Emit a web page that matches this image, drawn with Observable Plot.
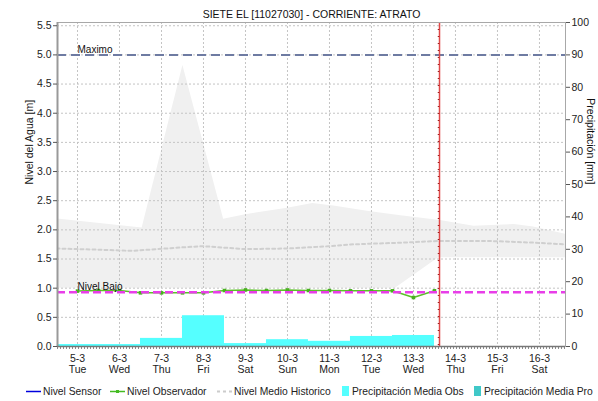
<!DOCTYPE html>
<html>
<head>
<meta charset="utf-8">
<script src="https://cdn.jsdelivr.net/npm/d3@7"></script>
<script src="https://cdn.jsdelivr.net/npm/@observablehq/plot@0.6"></script>
<style>
  html, body { margin: 0; padding: 0; background: #fff; }
  #wrap { position: relative; width: 598px; height: 401px; font-family: "Liberation Sans", Arial, sans-serif; overflow: hidden; }
  #legend { position: absolute; left: 0; top: 384px; width: 598px; height: 14px; font-size: 10.3px; color: #222; white-space: nowrap; }
  #legend .it { position: absolute; top: 0; display: flex; align-items: center; height: 14px; }
  #legend svg { margin-right: 2px; }
</style>
</head>
<body>
<div id="wrap"><div id="chart"></div><div id="legend"></div></div>
<script>
// ---------- data ----------
const title = "SIETE EL [11027030] - CORRIENTE: ATRATO";
const dayTicks = [5, 6, 7, 8, 9, 10, 11, 12, 13, 14, 15, 16];
const dayLabels = ["5-3", "6-3", "7-3", "8-3", "9-3", "10-3", "11-3", "12-3", "13-3", "14-3", "15-3", "16-3"];
const weekdayLabels = ["Tue", "Wed", "Thu", "Fri", "Sat", "Sun", "Mon", "Tue", "Wed", "Thu", "Fri", "Sat"];
const levelTicks = [0, 0.5, 1, 1.5, 2, 2.5, 3, 3.5, 4, 4.5, 5, 5.5];
const precipTicks = [0, 10, 20, 30, 40, 50, 60, 70, 80, 90, 100];

// Precipitación Media Obs (mm per day)
const precipDays = [5, 6, 7, 8, 9, 10, 11, 12, 13];
const precipObs  = [0.6, 0.6, 2.5, 9.5, 0.9, 2.1, 1.6, 3.1, 3.4];

// Nivel Observador (m), every 12 h
const obsTime  = [5, 5.5, 6, 6.5, 7, 7.5, 8, 8.5, 9, 9.5, 10, 10.5, 11, 11.5, 12, 12.5, 13, 13.5];
const obsLevel = [0.95, 0.96, 0.96, 0.92, 0.92, 0.92, 0.92, 0.96, 0.97, 0.96, 0.97, 0.96, 0.96, 0.955, 0.955, 0.955, 0.84, 0.955];

// Historic band (m)
const bandHiTime = [4.5, 6.54, 7.51, 8.48, 9, 10, 10.6, 11.1, 11.9, 12.7, 13.64, 14.44, 15.0, 15.4, 15.86, 16.65];
const bandHi     = [2.19, 2.03, 4.82, 2.18, 2.26, 2.37, 2.45, 2.41, 2.32, 2.24, 2.16, 2.06, 2.08, 2.09, 2.05, 1.92];
const bandLoTime = [4.5, 12.57, 13.6, 16.65];
const bandLo     = [1.0, 1.0, 1.52, 1.52];

// Nivel Medio Historico (m)
const meanTime  = [4.5, 5.5, 6.3, 7.5, 8.0, 9.0, 10.0, 11.0, 11.5, 12.7, 13.6, 14.8, 15.9, 16.65];
const meanLevel = [1.68, 1.66, 1.64, 1.70, 1.72, 1.67, 1.68, 1.72, 1.75, 1.78, 1.81, 1.81, 1.78, 1.75];

const nivelMaximo = 5.0;
const nivelBajo = 0.93;
const nowTime = 13.62;

// ---------- build ----------
const MM_PER_M = 18; // right axis 0..100 mm  <->  left axis 0..5.556 m
const precip = precipDays.map((d, i) => ({d, mm: precipObs[i]}));
const obs = obsTime.map((t, i) => ({t, v: obsLevel[i]}));
const hi = bandHiTime.map((t, i) => ({t, v: bandHi[i]}));
const lo = bandLoTime.map((t, i) => ({t, v: bandLo[i]}));
const mean = meanTime.map((t, i) => ({t, v: meanLevel[i]}));

const font = "Liberation Sans, Arial, sans-serif";
const chart = Plot.plot({
  width: 598,
  height: 382,
  marginTop: 22,
  marginLeft: 57,
  marginRight: 33,
  marginBottom: 36,
  style: {fontFamily: font, fontSize: "10.5px", color: "#222", background: "white"},
  x: {domain: [4.524, 16.62]},
  y: {domain: [0, 100 / MM_PER_M]},
  marks: [
    Plot.areaY(hi, {x: "t", y1: 0, y2: "v", fill: "#f0f0f0", clip: true}),
    Plot.areaY(lo, {x: "t", y1: 0, y2: "v", fill: "#ffffff", clip: true}),
    Plot.ruleX(dayTicks, {stroke: "#c4c4c4", strokeDasharray: "2,2"}),
    Plot.ruleY(levelTicks.filter(v => v > 0), {stroke: "#c4c4c4", strokeDasharray: "2,2"}),
    Plot.rectY(precip, {x1: d => d.d - 0.5, x2: d => d.d + 0.5, y: d => d.mm / MM_PER_M, fill: "#55ffff", clip: true}),
    Plot.line(mean, {x: "t", y: "v", stroke: "#cfcfcf", strokeWidth: 2, strokeDasharray: "3,3", clip: true}),
    Plot.ruleY([nivelMaximo], {stroke: "#6e7ba2", strokeWidth: 2, strokeDasharray: "9,5"}),
    Plot.text(["Maximo"], {x: 5, y: nivelMaximo, textAnchor: "start", lineAnchor: "bottom", dy: -2, fontSize: 10, fill: "#111"}),
    Plot.line(obs, {x: "t", y: "v", stroke: "#5cbf2a", strokeWidth: 1.5}),
    Plot.dot(obs, {x: "t", y: "v", symbol: "square", r: 2, fill: "#48b020", stroke: "none"}),
    Plot.ruleY([nivelBajo], {stroke: "#e83ee8", strokeWidth: 2.5, strokeDasharray: "8,4"}),
    Plot.text(["Nivel Bajo"], {x: 5, y: nivelBajo, textAnchor: "start", lineAnchor: "bottom", dy: -2, fontSize: 10, fill: "#111"}),
    Plot.ruleX([nowTime], {stroke: "#e04848", strokeWidth: 1.5}),
    Plot.ruleX([nowTime], {stroke: "#a02020", strokeWidth: 1.5, strokeDasharray: "1,6", dx: -1}),
    Plot.frame({stroke: "#a8a8a8"}),
    Plot.ruleX([4.524], {stroke: "#999", strokeWidth: 2}),
    Plot.ruleY([0], {stroke: "#777", strokeWidth: 1.5}),
    Plot.ruleY([0], {stroke: "#666", strokeWidth: 1.5, strokeDasharray: "1,2", dy: 1.5}),
    Plot.axisY({ticks: levelTicks, tickFormat: d => d.toFixed(1), tickSize: 4, tickPadding: 2, label: null, stroke: "#555"}),
    Plot.axisY({anchor: "right", ticks: precipTicks.map(v => v / MM_PER_M), tickFormat: d => String(Math.round(d * MM_PER_M)), tickSize: 4, tickPadding: 2, label: null, stroke: "#555"}),
    Plot.axisX({ticks: dayTicks, tickFormat: (d) => { const i = dayTicks.indexOf(d); return dayLabels[i] + "\n" + weekdayLabels[i]; }, tickSize: 0, tickPadding: 8, lineHeight: 1.05, label: null}),
    Plot.text([title], {frameAnchor: "top", dy: -12, fontSize: 10.5, fill: "#111"}),
    Plot.text(["Nivel del Agua [m]"], {frameAnchor: "left", dx: -28, rotate: -90, fontSize: 10.5, fill: "#111"}),
    Plot.text(["Precipitación [mm]"], {frameAnchor: "right", dx: 25, rotate: 90, fontSize: 10.5, fill: "#111"})
  ]
});
document.getElementById("chart").appendChild(chart);

// ---------- legend ----------
const legendLabels = ["Nivel Sensor", "Nivel Observador", "Nivel Medio Historico", "Precipitación Media Obs", "Precipitación Media Pro"];
const legendColors = ["#0000dd", "#44bb22", "#cccccc", "#55ffff", "#40c8c8"];
const legendKinds  = ["line", "lineDot", "dash", "box", "box"];
const legendLeft   = [26, 110, 217, 341, 473];
const legend = d3.select("#legend");
legendLabels.forEach((label, i) => {
  const kind = legendKinds[i], color = legendColors[i];
  const g = legend.append("div").attr("class", "it").style("left", legendLeft[i] + "px");
  const s = g.append("svg").attr("width", kind === "box" ? 9 : 15).attr("height", 12);
  if (kind === "box") {
    s.append("rect").attr("x", 1).attr("y", 1).attr("width", 7).attr("height", 10).attr("fill", color);
  } else {
    s.append("line").attr("x1", 0).attr("x2", 15).attr("y1", 6.5).attr("y2", 6.5)
      .attr("stroke", color).attr("stroke-width", kind === "dash" ? 2 : 1.5)
      .attr("stroke-dasharray", kind === "dash" ? "3,3" : null);
    if (kind === "lineDot") s.append("rect").attr("x", 6).attr("y", 5).attr("width", 3).attr("height", 3).attr("fill", color);
  }
  g.append("span").text(label);
});
</script>
</body>
</html>
